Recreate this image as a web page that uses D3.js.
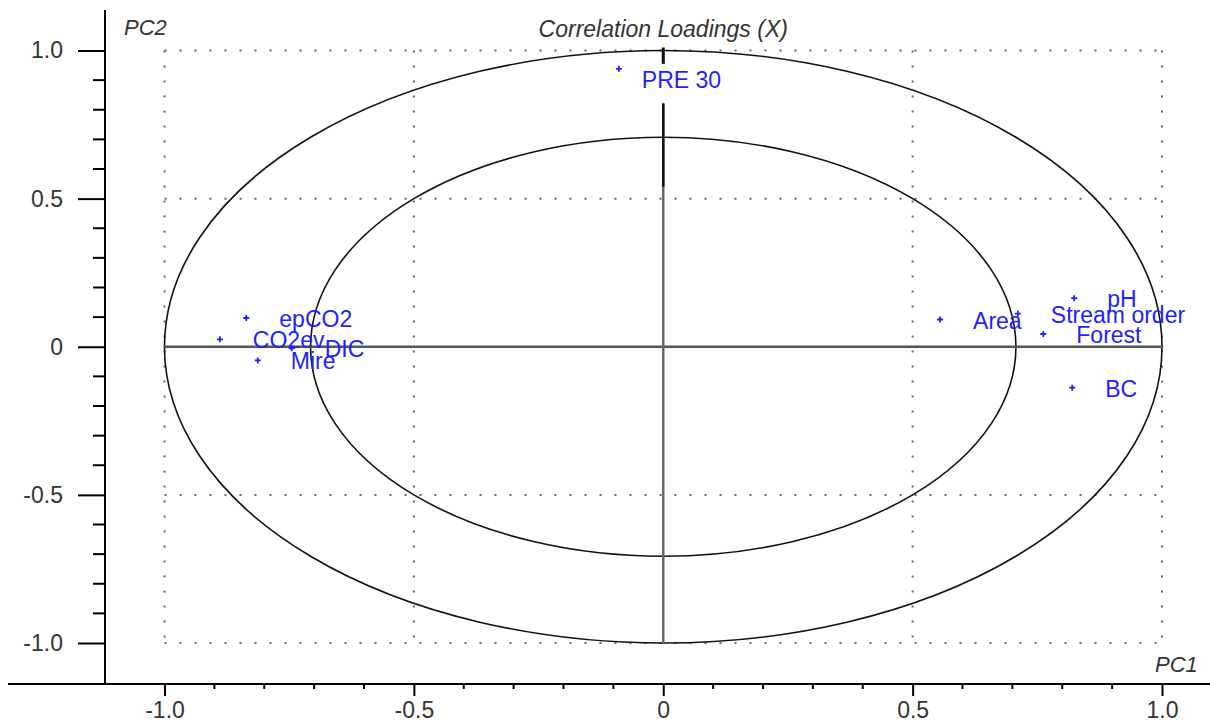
<!DOCTYPE html>
<html>
<head>
<meta charset="utf-8">
<script src="https://cdn.jsdelivr.net/npm/d3@7"></script>
<style>
  body { margin: 0; background: #fff; }
  svg text { font-family: "Liberation Sans", Arial, sans-serif; }
  .tick text { fill: #333; font-size: 23px; }
  .tick line { stroke: #000; stroke-width: 2; }
  .grid { stroke: #666; stroke-width: 2; stroke-dasharray: 2 13; fill: none; }
  .circle { stroke: #111; stroke-width: 1.6; fill: none; }
  .varLabel { fill: #1f1fff; font-size: 23px; }
  .axisTitle { fill: #333; font-size: 22px; font-style: italic; }
</style>
</head>
<body>
<div id="chart"></div>
<script>
"use strict"

// variables of the correlation loadings plot
let variables = ["PRE 30", "epCO2", "CO2ev", "DIC", "Mire", "Area", "Stream order", "pH", "Forest", "BC"];
let pc1Values = [-0.089, -0.836, -0.889, -0.745, -0.813, 0.555, 0.711, 0.824, 0.762, 0.820];
let pc2Values = [0.938, 0.097, 0.025, -0.005, -0.046, 0.092, 0.112, 0.164, 0.043, -0.138];

let xTicks = [-1, -0.5, 0, 0.5, 1];
let xTickLabels = ["-1.0", "-0.5", "0", "0.5", "1.0"];
let yTicks = [1, 0.5, 0, -0.5, -1];
let yTickLabels = ["1.0", "0.5", "0", "-0.5", "-1.0"];
let gridValues = [-1, -0.5, 0.5, 1];
// explained variance circles (100% and 50%)
let circleRadii = [1, Math.sqrt(0.5)];

let totalWidth = 1210, totalHeight = 723;
let axisX = 105, axisY = 684;

let xScale = d3.scaleLinear().domain([-1, 1]).range([164.5, 1162]);
let yScale = d3.scaleLinear().domain([1, -1]).range([50.5, 643]);

let svg = d3.select("#chart").append("svg")
    .attr("width", totalWidth)
    .attr("height", totalHeight);

// dotted grid
svg.append("g").selectAll("line.gx")
    .data(gridValues)
    .enter().append("line")
        .attr("class", "grid")
        .attr("x1", d => xScale(d)).attr("x2", d => xScale(d))
        .attr("y1", yScale(1)).attr("y2", yScale(-1));
svg.append("g").selectAll("line.gy")
    .data(gridValues)
    .enter().append("line")
        .attr("class", "grid")
        .attr("x1", xScale(-1)).attr("x2", xScale(1))
        .attr("y1", d => yScale(d)).attr("y2", d => yScale(d));

// ellipses (circles in data space)
svg.append("g").selectAll("ellipse")
    .data(circleRadii)
    .enter().append("ellipse")
        .attr("class", "circle")
        .attr("cx", xScale(0))
        .attr("cy", yScale(0))
        .attr("rx", d => xScale(d) - xScale(0))
        .attr("ry", d => yScale(0) - yScale(d));

// centre cross
svg.append("line")
    .attr("x1", xScale(-1)).attr("x2", xScale(1))
    .attr("y1", yScale(0)).attr("y2", yScale(0))
    .style("stroke", "#555").style("stroke-width", 2.5);
svg.append("line")
    .attr("x1", xScale(0)).attr("x2", xScale(0))
    .attr("y1", yScale(1)).attr("y2", yScale(-1))
    .style("stroke", "#666").style("stroke-width", 2.5);
svg.append("line")
    .attr("x1", xScale(0)).attr("x2", xScale(0))
    .attr("y1", yScale(0.82)).attr("y2", yScale(0.54))
    .style("stroke", "#111").style("stroke-width", 2.5);
svg.append("line")
    .attr("x1", xScale(0)).attr("x2", xScale(0))
    .attr("y1", yScale(1) - 3).attr("y2", yScale(0.95))
    .style("stroke", "#111").style("stroke-width", 3);

// points and labels
let pts = variables.map((v, i) => ({name: v, pc1: pc1Values[i], pc2: pc2Values[i]}));
let nudge = {"PRE 30": [-10, 10]};

let labels = svg.append("g").selectAll("g")
    .data(pts)
    .enter().append("g")
        .attr("transform", d => `translate(${xScale(d.pc1)},${yScale(d.pc2)})`);

labels.filter(d => nudge[d.name])
    .append("rect")
        .attr("x", d => 33 + nudge[d.name][0] - 2)
        .attr("y", d => nudge[d.name][1] - 15)
        .attr("width", 90)
        .attr("height", 39)
        .style("fill", "#fff");

labels.append("path")
    .attr("d", "M-3,0H3M0,-3V3")
    .style("stroke", "#1f1fff")
    .style("stroke-width", 1.8);

labels.append("text")
    .attr("class", "varLabel")
    .attr("x", d => 33 + (nudge[d.name] ? nudge[d.name][0] : 0))
    .attr("y", d => 1 + (nudge[d.name] ? nudge[d.name][1] : 0))
    .attr("dy", "0.35em")
    .text(d => d.name);

// axes
let xAxis = svg.append("g")
    .attr("transform", `translate(0,${axisY})`)
    .call(d3.axisBottom(xScale).tickValues(xTicks).tickSize(12).tickPadding(6)
        .tickFormat((d, i) => xTickLabels[i]));
xAxis.select(".domain").remove();

let yAxis = svg.append("g")
    .attr("transform", `translate(${axisX},0)`)
    .call(d3.axisLeft(yScale).tickValues(yTicks).tickSize(27).tickPadding(15)
        .tickFormat((d, i) => yTickLabels[i]));
yAxis.select(".domain").remove();

// minor ticks
let minor = d3.range(-9, 10).filter(d => d % 5 != 0).map(d => d / 10);
svg.append("g").selectAll("line")
    .data(minor)
    .enter().append("line")
        .attr("x1", d => xScale(d)).attr("x2", d => xScale(d))
        .attr("y1", axisY).attr("y2", axisY + 5)
        .style("stroke", "#000").style("stroke-width", 2);
svg.append("g").selectAll("line")
    .data(minor)
    .enter().append("line")
        .attr("x1", axisX - 12).attr("x2", axisX)
        .attr("y1", d => yScale(d)).attr("y2", d => yScale(d))
        .style("stroke", "#000").style("stroke-width", 2);

svg.append("line")
    .attr("x1", 8).attr("x2", totalWidth)
    .attr("y1", axisY).attr("y2", axisY)
    .style("stroke", "#000").style("stroke-width", 2);
svg.append("line")
    .attr("x1", axisX).attr("x2", axisX)
    .attr("y1", 10).attr("y2", axisY)
    .style("stroke", "#000").style("stroke-width", 2);

// titles
svg.append("text")
    .attr("class", "axisTitle")
    .attr("x", xScale(0))
    .attr("y", 37)
    .attr("text-anchor", "middle")
    .style("font-size", "23px")
    .text("Correlation Loadings (X)");
svg.append("text")
    .attr("class", "axisTitle")
    .attr("x", 124)
    .attr("y", 35)
    .text("PC2");
svg.append("text")
    .attr("class", "axisTitle")
    .attr("x", 1155)
    .attr("y", 672)
    .text("PC1");
</script>
</body>
</html>
